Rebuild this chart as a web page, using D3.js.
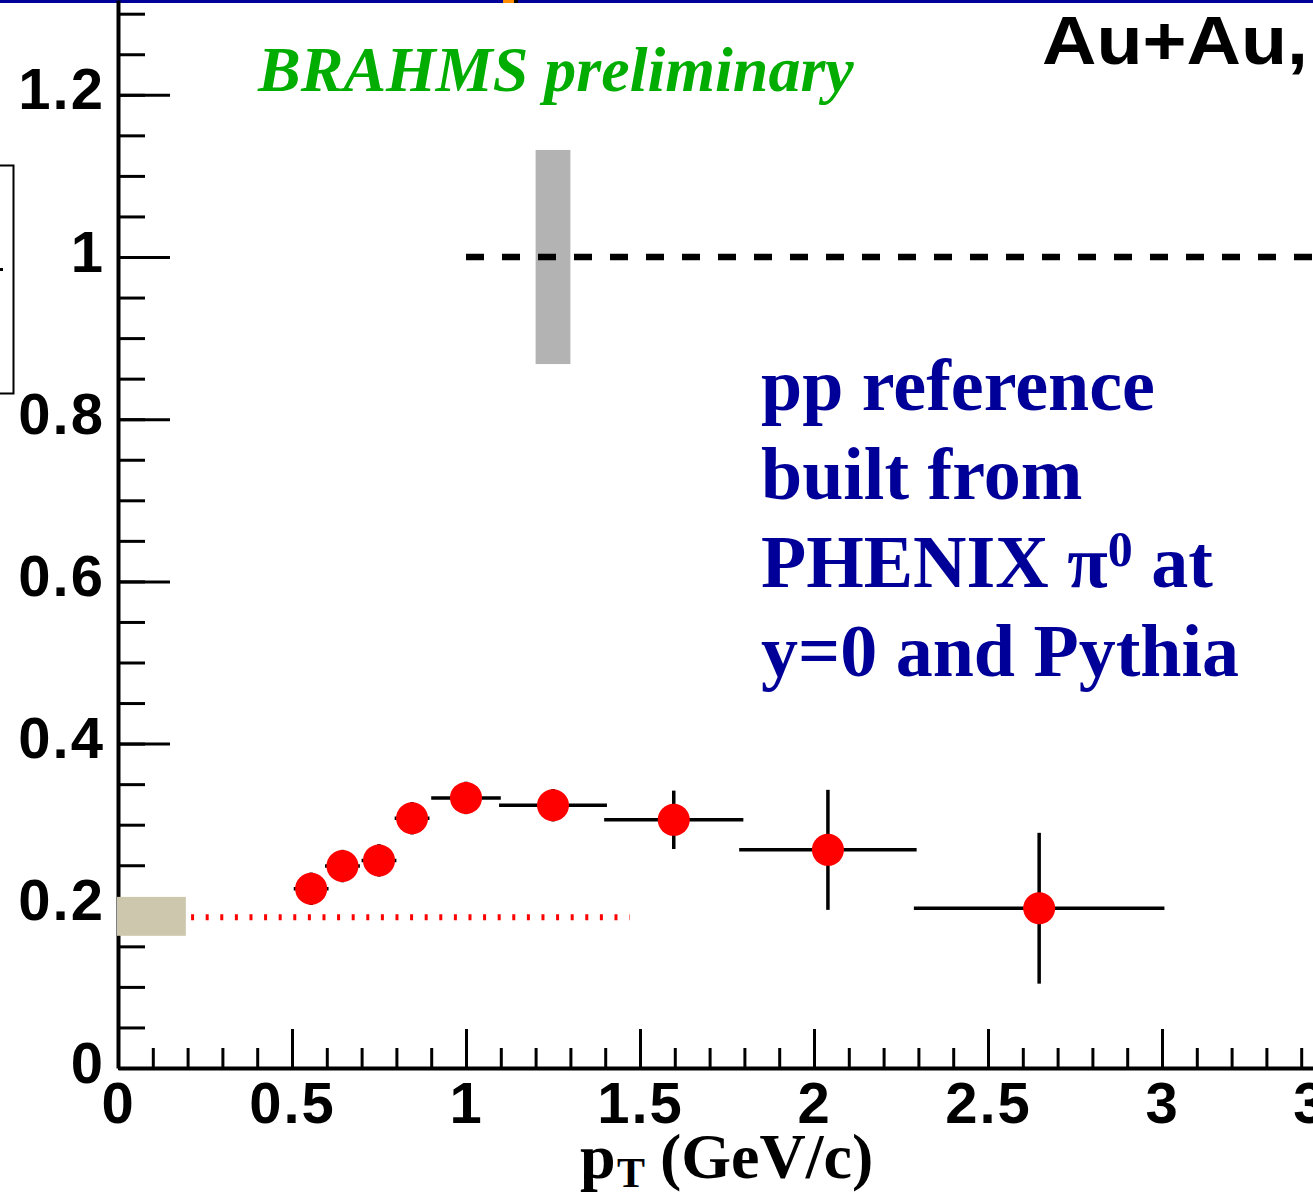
<!DOCTYPE html>
<html>
<head>
<meta charset="utf-8">
<script src="https://cdn.jsdelivr.net/npm/d3@7"></script>
<style>
  body { margin: 0; background: #fff; }
</style>
</head>
<body>
<div id="chart"></div>
<script>
// R_AA points (red markers)
const ptValues  = [0.555, 0.645, 0.75, 0.845, 1.0, 1.25, 1.597, 2.04, 2.647];
const raaValues = [0.221, 0.249, 0.256, 0.308, 0.333, 0.324, 0.306, 0.269, 0.197];
const ptErrors  = [0.05, 0.05, 0.05, 0.05, 0.1, 0.155, 0.2, 0.255, 0.36];
const raaErrors = [0.02, 0.02, 0.02, 0.02, 0.02, 0.02, 0.036, 0.074, 0.093];

// normalisation uncertainty band around 1, and the low-pT reference band
const normBox = {x0: 1.2, x1: 1.3, y0: 0.868, y1: 1.132};
const refBox  = {x0: 0, x1: 0.195, y0: 0.163, y1: 0.211};
const refLevel = 0.186;
const refLineRange = [0.21, 1.47];
const unityLevel = 1;
const unityStart = 1.0;

const xTickVals = [0, 0.5, 1, 1.5, 2, 2.5, 3, 3.5];
const xTickLabels = ["0", "0.5", "1", "1.5", "2", "2.5", "3", "3.5"];
const yTickVals = [0, 0.2, 0.4, 0.6, 0.8, 1, 1.2];
const yTickLabels = ["0", "0.2", "0.4", "0.6", "0.8", "1", "1.2"];

const textLines = ["pp reference", "built from", "PHENIX", "y=0 and Pythia"];

var W = 1313, H = 1194;
var x0 = 118, yBase = 1068;

const svg = d3.select("#chart").append("svg")
    .attr("width", W)
    .attr("height", H)
    .style("display", "block");

svg.append("rect").attr("width", W).attr("height", H).attr("fill", "#fff");

var x = d3.scaleLinear().domain([0, 3.6]).range([x0, x0 + 3.6 * 348]);
var y = d3.scaleLinear().domain([0, yBase / 811]).range([yBase, 0]);

// slide header strip
svg.append("rect").attr("x", 0).attr("y", 0).attr("width", W).attr("height", 3).attr("fill", "#000099");
svg.append("rect").attr("x", 503).attr("y", 0).attr("width", 11).attr("height", 3).attr("fill", "#ff8c00");
svg.append("rect").attr("x", 514).attr("y", 0).attr("width", 4).attr("height", 3).attr("fill", "#000");

// legend box fragment on the far left
svg.append("path")
    .attr("d", "M0,165.5H13.5V393.5H0")
    .attr("fill", "none").attr("stroke", "#000").attr("stroke-width", 2);
svg.append("rect").attr("x", 0).attr("y", 268).attr("width", 3).attr("height", 3).attr("fill", "#000");

// axes
function styleAxis(g) {
    g.attr("font-family", "'Liberation Sans', Arial, sans-serif")
        .attr("font-weight", "bold")
        .attr("font-size", 58);
    g.selectAll(".tick line").attr("stroke", "#000").attr("stroke-width", 3);
    g.selectAll("text").attr("fill", "#000").attr("letter-spacing", 2);
}

var yMinor = d3.range(0, 1.31, 0.05);
var xMinor = d3.range(0, 3.61, 0.1);

svg.append("g")
    .attr("transform", "translate(" + x0 + ",0)")
    .call(d3.axisLeft(y).tickValues(yMinor).tickSize(-27).tickFormat(""))
    .call(styleAxis)
    .call(g => g.select(".domain").remove());

var yAxis = svg.append("g")
    .attr("transform", "translate(" + x0 + ",0)")
    .call(d3.axisLeft(y).tickValues(yTickVals).tickSize(-52).tickSizeOuter(0).tickPadding(13)
        .tickFormat((d, i) => yTickLabels[i]))
    .call(styleAxis);
yAxis.select(".domain").attr("stroke", "#000").attr("stroke-width", 4);
yAxis.selectAll("text").attr("dy", 0).attr("y", 14);

svg.append("g")
    .attr("transform", "translate(0," + yBase + ")")
    .call(d3.axisBottom(x).tickValues(xMinor).tickSize(-20).tickFormat(""))
    .call(styleAxis)
    .call(g => g.select(".domain").remove());

var xAxis = svg.append("g")
    .attr("transform", "translate(0," + yBase + ")")
    .call(d3.axisBottom(x).tickValues(xTickVals).tickSize(-39).tickSizeOuter(0)
        .tickFormat((d, i) => xTickLabels[i]))
    .call(styleAxis);
xAxis.select(".domain").attr("stroke", "#000").attr("stroke-width", 4);
xAxis.selectAll("text").attr("dy", 0).attr("y", 55);

// uncertainty boxes
svg.append("rect")
    .attr("x", x(normBox.x0)).attr("y", y(normBox.y1))
    .attr("width", x(normBox.x1) - x(normBox.x0))
    .attr("height", y(normBox.y0) - y(normBox.y1))
    .attr("fill", "#b3b3b3");

svg.append("rect")
    .attr("x", x(refBox.x0) - 1).attr("y", y(refBox.y1))
    .attr("width", x(refBox.x1) - x(refBox.x0) + 1)
    .attr("height", y(refBox.y0) - y(refBox.y1))
    .attr("fill", "#cdc8ad");

// red dotted reference level
svg.append("line")
    .attr("x1", x(refLineRange[0])).attr("x2", x(refLineRange[1]))
    .attr("y1", y(refLevel)).attr("y2", y(refLevel))
    .attr("stroke", "#ff0000").attr("stroke-width", 6)
    .attr("stroke-dasharray", "3,11.6");

// dashed line at 1
svg.append("line")
    .attr("x1", x(unityStart)).attr("x2", W + 20)
    .attr("y1", y(unityLevel)).attr("y2", y(unityLevel))
    .attr("stroke", "#000").attr("stroke-width", 6.5)
    .attr("stroke-dasharray", "18,18");

// data points
var points = ptValues.map((p, i) => ({pt: p, r: raaValues[i], ex: ptErrors[i], ey: raaErrors[i]}));

var errs = svg.append("g").attr("stroke", "#000").attr("stroke-width", 3.5);
errs.selectAll(".ex").data(points).enter().append("line")
    .attr("x1", d => x(d.pt - d.ex)).attr("x2", d => x(d.pt + d.ex))
    .attr("y1", d => y(d.r)).attr("y2", d => y(d.r));
errs.selectAll(".ey").data(points).enter().append("line")
    .attr("x1", d => x(d.pt)).attr("x2", d => x(d.pt))
    .attr("y1", d => y(d.r - d.ey)).attr("y2", d => y(d.r + d.ey));

svg.append("g").selectAll("circle").data(points).enter().append("circle")
    .attr("cx", d => x(d.pt)).attr("cy", d => y(d.r))
    .attr("r", 16)
    .attr("fill", "#ff0000");

// texts
svg.append("text")
    .attr("x", 258).attr("y", 91)
    .attr("font-family", "'Liberation Serif', 'Times New Roman', serif")
    .attr("font-weight", "bold").attr("font-style", "italic")
    .attr("font-size", 64)
    .attr("fill", "#00ad00")
    .text("BRAHMS preliminary");

svg.append("text")
    .attr("x", 1042).attr("y", 64)
    .attr("font-family", "'Liberation Sans', Arial, sans-serif")
    .attr("font-weight", "bold")
    .attr("font-size", 68)
    .attr("textLength", 266)
    .attr("lengthAdjust", "spacingAndGlyphs")
    .attr("fill", "#000")
    .text("Au+Au,");

var blue = svg.append("g")
    .attr("font-family", "'Liberation Serif', 'Times New Roman', serif")
    .attr("font-weight", "bold")
    .attr("font-size", 74)
    .attr("fill", "#000099");

textLines.forEach(function(t, i) {
    var tx = blue.append("text").attr("x", 761).attr("y", 410 + i * 88.7);
    if (t === "PHENIX") {
        tx.append("tspan").text("PHENIX \u03c0");
        tx.append("tspan").attr("font-size", 50).attr("dy", -21).text("0");
        tx.append("tspan").attr("dy", 21).text(" at");
    } else {
        tx.text(t);
    }
});

var title = svg.append("text")
    .attr("y", 1178)
    .attr("font-family", "'Liberation Serif', 'Times New Roman', serif")
    .attr("font-weight", "bold")
    .attr("font-size", 64)
    .attr("fill", "#000");
title.append("tspan").attr("x", 580).text("p");
title.append("tspan").attr("x", 617).attr("dy", 9).attr("font-size", 42).text("T");
title.append("tspan").attr("x", 660).attr("dy", -9).text("(GeV/c)");
</script>
</body>
</html>
